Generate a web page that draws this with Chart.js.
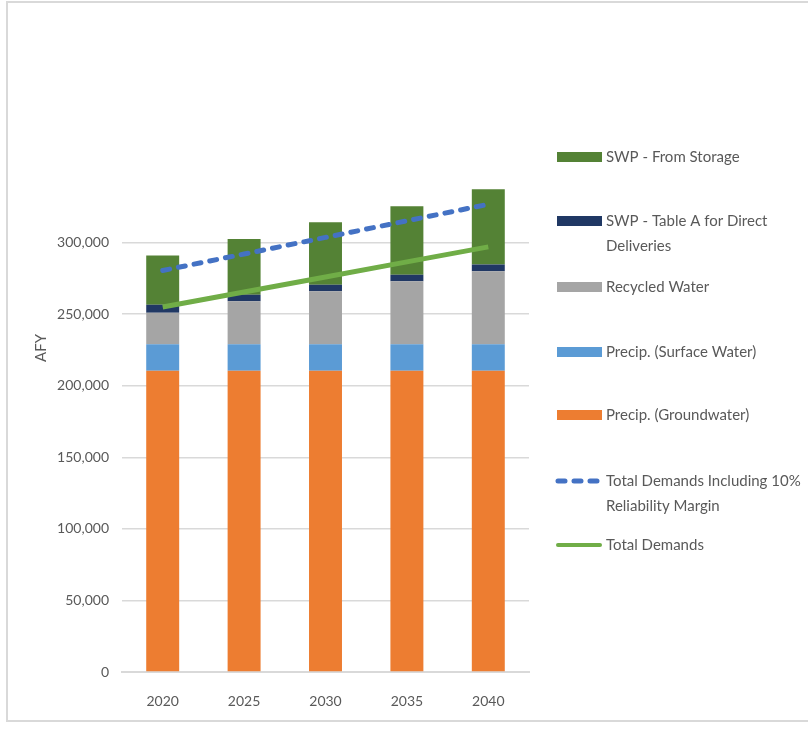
<!DOCTYPE html>
<html>
<head>
<meta charset="utf-8">
<script src="https://cdn.jsdelivr.net/npm/chart.js@4"></script>
<style>
    html, body { margin: 0; padding: 0; background: #fff; overflow: hidden; }
    #wrap { position: relative; width: 808px; height: 735px; }
    #frame { position: absolute; left: 6px; top: 1px; width: 820px; height: 721px; border: 2px solid #d9d9d9; box-sizing: border-box; }
    canvas { position: absolute; left: 0; top: 0; }
</style>
</head>
<body>
<div id="wrap">
    <div id="frame"></div>
    <canvas id="myChart" width="808" height="735"></canvas>
</div>
<script>
const COLORS = {
    storage: '#548235',
    tableA: '#203864',
    recycled: '#a5a5a5',
    surface: '#5b9bd5',
    ground: '#ed7d31',
    demandMargin: '#4472c4',
    demand: '#70ad47',
    text: '#595959',
    grid: '#d9d9d9'
};

const years = ['2020', '2025', '2030', '2035', '2040'];
const groundwater = [210500, 210500, 210500, 210500, 210500];
const surfaceWater = [18500, 18500, 18500, 18500, 18500];
const recycledWater = [22000, 30000, 37000, 44000, 51000];
const tableADirect = [5500, 4500, 4500, 4600, 4600];
const fromStorage = [34500, 39000, 43700, 47800, 52700];
const totalDemandsMargin = [280500, 292000, 303600, 315200, 326700];
const totalDemands = [255000, 265500, 276000, 286500, 297000];

// legend rows drawn on the right, top to bottom
const legendRows = [
    { label: ['SWP - From Storage'], color: COLORS.storage, kind: 'box', y: 157 },
    { label: ['SWP - Table A for Direct', 'Deliveries'], color: COLORS.tableA, kind: 'box', y: 221 },
    { label: ['Recycled Water'], color: COLORS.recycled, kind: 'box', y: 287 },
    { label: ['Precip. (Surface Water)'], color: COLORS.surface, kind: 'box', y: 352 },
    { label: ['Precip. (Groundwater)'], color: COLORS.ground, kind: 'box', y: 415 },
    { label: ['Total Demands Including 10%', 'Reliability Margin'], color: COLORS.demandMargin, kind: 'dash', y: 481 },
    { label: ['Total Demands'], color: COLORS.demand, kind: 'line', y: 545 }
];

const sideLegend = {
    id: 'sideLegend',
    afterDraw(chart) {
        const c = chart.ctx;
        c.save();
        c.font = '15px Lato';
        c.textBaseline = 'middle';
        c.fillStyle = COLORS.text;
        legendRows.forEach(row => {
            if (row.kind === 'box') {
                c.fillStyle = row.color;
                c.fillRect(557, row.y - 5, 45, 10);
            } else {
                c.strokeStyle = row.color;
                c.lineWidth = row.kind === 'dash' ? 5 : 4;
                c.lineCap = 'round';
                c.setLineDash(row.kind === 'dash' ? [7, 9] : []);
                c.beginPath();
                c.moveTo(558, row.y);
                c.lineTo(600, row.y);
                c.stroke();
                c.setLineDash([]);
            }
            c.fillStyle = COLORS.text;
            row.label.forEach((t, i) => c.fillText(t, 606, row.y + i * 25));
        });
        // axis title
        c.translate(41, 348);
        c.rotate(-Math.PI / 2);
        c.textAlign = 'center';
        c.fillText('AFY', 0, 0);
        c.restore();
    }
};

const ctx = document.getElementById('myChart').getContext('2d');

const bar = (label, data, color) => ({
    type: 'bar',
    label: label,
    data: data,
    backgroundColor: color,
    borderWidth: 0,
    stack: 'supply',
    order: 1,
    categoryPercentage: 1,
    barPercentage: 0.405
});

new Chart(ctx, {
    data: {
        labels: years,
        datasets: [
            bar('Precip. (Groundwater)', groundwater, COLORS.ground),
            bar('Precip. (Surface Water)', surfaceWater, COLORS.surface),
            bar('Recycled Water', recycledWater, COLORS.recycled),
            bar('SWP - Table A for Direct Deliveries', tableADirect, COLORS.tableA),
            bar('SWP - From Storage', fromStorage, COLORS.storage),
            {
                type: 'line',
                label: 'Total Demands Including 10% Reliability Margin',
                data: totalDemandsMargin,
                borderColor: COLORS.demandMargin,
                borderWidth: 5,
                borderDash: [7, 9],
                borderCapStyle: 'round',
                pointRadius: 0,
                stack: 'l1',
                order: 0
            },
            {
                type: 'line',
                label: 'Total Demands',
                data: totalDemands,
                borderColor: COLORS.demand,
                borderWidth: 5,
                pointRadius: 0,
                stack: 'l2',
                order: 0
            }
        ]
    },
    options: {
        responsive: false,
        animation: false,
        layout: { padding: { top: 171, right: 279, bottom: 18, left: 0 } },
        plugins: {
            legend: { display: false },
            tooltip: { enabled: false }
        },
        scales: {
            x: {
                stacked: true,
                afterFit: s => { s.height = 45; },
                ticks: {
                    font: { family: 'Lato', size: 14 },
                    color: COLORS.text,
                    padding: 13
                },
                grid: { display: false },
                border: { color: COLORS.grid, width: 2 }
            },
            y: {
                stacked: true,
                min: 0,
                max: 350000,
                afterFit: s => { s.width = 122; },
                ticks: {
                    stepSize: 50000,
                    font: { family: 'Lato', size: 14 },
                    color: COLORS.text,
                    padding: 13,
                    callback: v => v > 300000 ? '' : v.toLocaleString('en-US')
                },
                grid: {
                    drawTicks: false,
                    lineWidth: 1.5,
                    color: c => (c.tick && c.tick.value > 300000) ? 'rgba(0,0,0,0)' : COLORS.grid
                },
                border: { display: false }
            }
        }
    },
    plugins: [sideLegend]
});
</script>
</body>
</html>
